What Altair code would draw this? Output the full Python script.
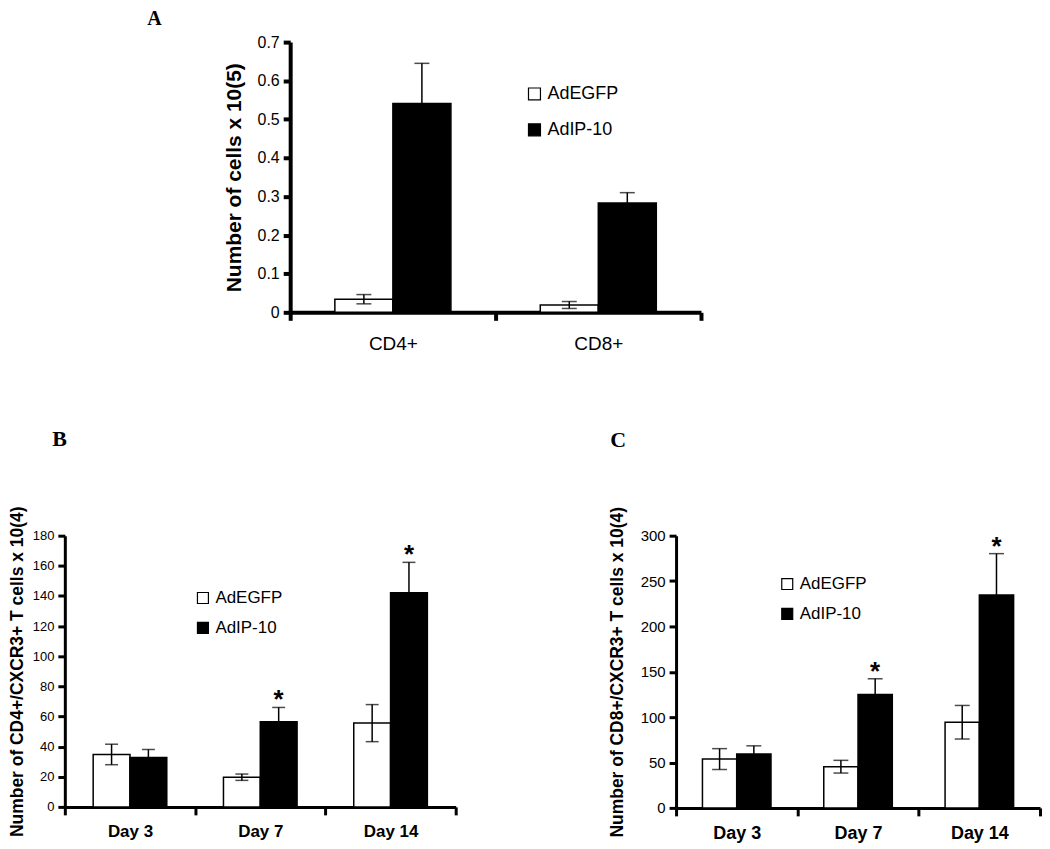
import altair as alt
import pandas as pd

SANS = "Liberation Sans"
SERIF = "Liberation Serif"

GROUPS = ["AdEGFP", "AdIP-10"]

# Panel A
A_CATS = ["CD4+", "CD8+"]
A_EGFP = [0.034, 0.019]
A_EGFP_SD = [0.012, 0.009]
A_IP10 = [0.541, 0.283]
A_IP10_SD = [0.104, 0.027]
A_STARS = ["", ""]
A_TICKS = [0, 0.1, 0.2, 0.3, 0.4, 0.5, 0.6, 0.7]

# Panel B
DAYS = ["Day 3", "Day 7", "Day 14"]
B_EGFP = [34.8, 19.7, 55.6]
B_EGFP_SD = [6.8, 2.1, 12.3]
B_IP10 = [32.8, 56.5, 142.2]
B_IP10_SD = [5.3, 9.5, 20.1]
B_STARS = ["", "*", "*"]
B_TICKS = [0, 20, 40, 60, 80, 100, 120, 140, 160, 180]

# Panel C
C_EGFP = [53.8, 45.4, 94.4]
C_EGFP_SD = [11.5, 7.0, 18.5]
C_IP10 = [59.3, 125.1, 234.5]
C_IP10_SD = [9.1, 17.2, 45.7]
C_STARS = ["", "*", "*"]
C_TICKS = [0, 50, 100, 150, 200, 250, 300]


def panel(cats, egfp, egfp_sd, ip, ip_sd, stars, ticks, fmt, ymax, w, h,
          ytitle, letter, st):
    rows = []
    for i, c in enumerate(cats):
        rows.append(dict(cat=c, grp=GROUPS[0], val=egfp[i],
                         lo=egfp[i] - egfp_sd[i], hi=egfp[i] + egfp_sd[i], star=""))
        rows.append(dict(cat=c, grp=GROUPS[1], val=ip[i],
                         lo=ip[i] - ip_sd[i], hi=ip[i] + ip_sd[i], star=stars[i]))
    df = pd.DataFrame(rows)

    xaxis = alt.Axis(title=None, labelAngle=0, tickBand="extent",
                     domainWidth=st["dw"], domainColor="black",
                     tickColor="black", tickWidth=st["dw"], tickSize=8,
                     labelFont=SANS, labelFontSize=st["xl"], labelFontWeight=st["xw"],
                     labelColor="black", labelPadding=st["xlp"])
    yaxis = alt.Axis(title=ytitle, values=ticks, format=fmt,
                     domainWidth=st["dw"], domainColor="black",
                     tickColor="black", tickWidth=st["dw"], tickSize=7,
                     labelFont=SANS, labelFontSize=st["yl"], labelColor="black",
                     labelPadding=4, titleFont=SANS, titleFontSize=st["tt"],
                     titleFontWeight="bold", titleColor="black", titlePadding=st["tp"],
                     grid=False)
    x = alt.X("cat:N", sort=cats, scale=alt.Scale(paddingInner=0, paddingOuter=0), axis=xaxis)
    xo = alt.XOffset("grp:N", sort=GROUPS,
                     scale=alt.Scale(domain=GROUPS, paddingInner=0, paddingOuter=0.77))
    yscale = alt.Scale(domain=[0, ymax], nice=False)

    base = alt.Chart(df)
    bars = base.mark_bar(stroke="black", strokeWidth=1.5).encode(
        x=x, xOffset=xo,
        y=alt.Y("val:Q", scale=yscale, axis=yaxis),
        color=alt.Color("grp:N", scale=alt.Scale(domain=GROUPS, range=["white", "black"]),
                        legend=alt.Legend(orient="none", legendX=st["lx"], legendY=st["ly"],
                                          title=None, symbolType="square",
                                          symbolSize=st["ss"], symbolStrokeColor="black",
                                          symbolStrokeWidth=1.2, labelFont=SANS,
                                          labelFontSize=st["lf"], labelColor="black",
                                          rowPadding=st["rp"], padding=0, labelOffset=4)),
    )
    rules = base.mark_rule(color="black", strokeWidth=1.5).encode(
        x=x, xOffset=xo,
        y=alt.Y("lo:Q", scale=yscale, axis=yaxis), y2="hi:Q",
    )
    caps_hi = base.mark_tick(color="black", thickness=1.5, size=st["cap"]).encode(
        x=x, xOffset=xo, y=alt.Y("hi:Q", scale=yscale, axis=yaxis),
    )
    caps_lo = base.mark_tick(color="black", thickness=1.5, size=st["cap"]).encode(
        x=x, xOffset=xo, y=alt.Y("lo:Q", scale=yscale, axis=yaxis),
    )
    stars_l = base.mark_text(font=SANS, fontSize=26, fontWeight="bold", color="black",
                             baseline="alphabetic", dy=1).encode(
        x=x, xOffset=xo, y=alt.Y("hi:Q", scale=yscale, axis=yaxis), text="star:N",
    )
    return alt.layer(bars, rules, caps_hi, caps_lo, stars_l).properties(
        width=w, height=h,
        title=alt.TitleParams(letter, anchor="start", frame="bounds", font=SERIF,
                              fontSize=st["lt"], fontWeight="bold", color="black",
                              offset=st["to"], dx=st["tdx"]),
    )


stA = dict(dw=4, xl=19, xw="normal", xlp=14, yl=16, tt=21, tp=13, lx=236, ly=43,
           ss=144, lf=18, rp=18, cap=15, lt=20, to=5, tdx=-76)
stB = dict(dw=3, xl=17, xw="bold", xlp=9, yl=13, tt=17.5, tp=6, lx=130, ly=54,
           ss=121, lf=17, rp=12, cap=13, lt=22, to=55, tdx=44)
stC = dict(dw=3, xl=18, xw="bold", xlp=9, yl=15, tt=17.5, tp=14, lx=103, ly=40,
           ss=121, lf=17, rp=12, cap=15, lt=22, to=55, tdx=2)

chartA = panel(A_CATS, A_EGFP, A_EGFP_SD, A_IP10, A_IP10_SD, A_STARS, A_TICKS, ".1~f",
               0.7, 412, 271, "Number of cells x 10(5)", "A", stA)
chartB = panel(DAYS, B_EGFP, B_EGFP_SD, B_IP10, B_IP10_SD, B_STARS, B_TICKS, "d",
               180, 392, 272, "Number of CD4+/CXCR3+ T cells x 10(4)", "B", stB)
chartC = panel(DAYS, C_EGFP, C_EGFP_SD, C_IP10, C_IP10_SD, C_STARS, C_TICKS, "d",
               300, 365, 273, "Number of CD8+/CXCR3+ T cells x 10(4)", "C", stC)

spacer = alt.Chart(pd.DataFrame({"s": [0]})).mark_point(opacity=0).encode(
    x=alt.value(0), y=alt.value(0)).properties(width=82, height=10)


def indep(c):
    return c.resolve_scale(color="independent", xOffset="independent",
                           x="independent", y="independent").resolve_legend(
        color="independent")


row1 = indep(alt.hconcat(spacer, chartA, spacing=0))
row2 = indep(alt.hconcat(chartB, chartC, spacing=150))

chart = indep(alt.vconcat(row1, row2, spacing=75)).configure_view(
    stroke=None).properties(padding=0, background="white")

chart.save("out.html", embed_options={"renderer": "svg", "actions": False})
